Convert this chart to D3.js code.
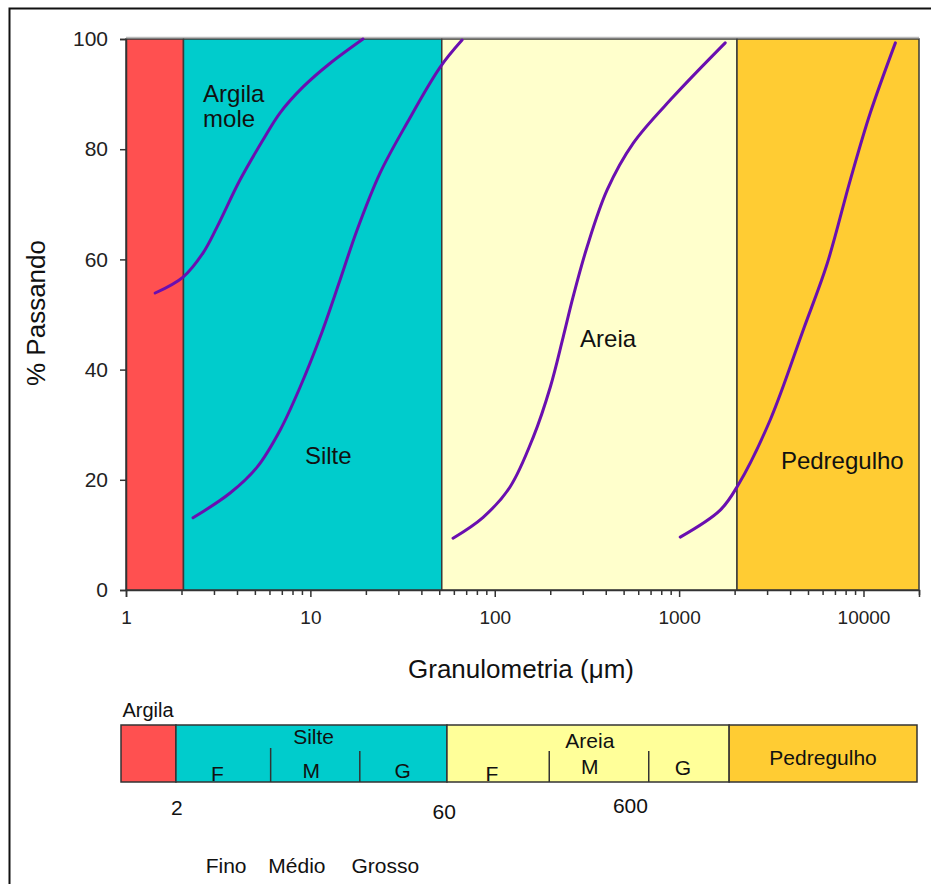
<!DOCTYPE html>
<html>
<head>
<meta charset="utf-8">
<script src="https://cdn.jsdelivr.net/npm/d3@7"></script>
<style>
  html, body { margin: 0; padding: 0; background: #fff; }
  text { font-family: "Liberation Sans", Arial, sans-serif; }
</style>
</head>
<body>
<svg id="chart" width="931" height="884"></svg>
<script>
// ---------- DATA ----------
const yTicks = [0, 20, 40, 60, 80, 100];
const xTickLabels = [1, 10, 100, 1000, 10000];

// Size-class bands in the main plot (µm)
const bandNames = ["Argila", "Silte", "Areia", "Pedregulho"];
const bandStart = [1, 2.05, 51.6, 2060];
const bandEnd = [2.05, 51.6, 2060, 20000];
const bandColors = ["#ff5050", "#00cccc", "#ffffcc", "#ffcc33"];

// Grading curves: [size µm, % passing]
const curveArgilaMole = [
  [1.44, 53.9], [2.04, 56.8], [2.62, 61.2], [3.12, 65.9], [4.15, 74.4],
  [5.54, 81.7], [6.85, 86.6], [9.13, 91.3], [12.8, 95.6], [19.3, 100]
];
const curveSilte = [
  [2.31, 13.1], [3.67, 17.6], [5.14, 22.3], [6.85, 29.0], [8.79, 36.8],
  [11.3, 45.9], [14.5, 56.3], [17.9, 65.3], [23.9, 75.7], [33.5, 84.8],
  [50.6, 94.9], [66.5, 99.8]
];
const curveAreia = [
  [59.4, 9.4], [86.5, 13.2], [121, 18.7], [162, 27.8], [200, 36.8],
  [235, 45.9], [266, 53.2], [317, 62.3], [407, 72.6], [564, 81.1],
  [929, 89.5], [1778, 99.3]
];
const curvePedregulho = [
  [1014, 9.6], [1671, 14.5], [2094, 19.1], [3122, 30.9], [4712, 47.2],
  [6363, 59.3], [8477, 74.4], [10890, 86.6], [14890, 99.3]
];

// In-plot labels: [text, size µm, % passing, anchor]
const plotLabels = [
  ["Argila", 2.62, 89.8, "start"],
  ["mole", 2.62, 85.1, "start"],
  ["Silte", 12.5, 24.1, "middle"],
  ["Areia", 412, 45.2, "middle"],
  ["Pedregulho", 7674, 23.2, "middle"]
];

// Schematic classification bar (positions in % of bar length)
const barSegStart = [0, 6.9, 40.95, 76.4];
const barSegEnd = [6.9, 40.95, 76.4, 100];
const barSegColors = ["#ff5050", "#00cccc", "#ffff99", "#ffcc33"];
const barDividers = [18.8, 30.0, 53.8, 66.3];
const barTitles = [["Silte", 24.2], ["Areia", 58.9], ["Pedregulho", 88.2]];
const barSubLabels = [["F", 12.1, 775], ["M", 23.9, 772], ["G", 35.4, 772],
                      ["F", 46.6, 775], ["M", 58.9, 768], ["G", 70.6, 769]];
const barBelowLabels = [["2", 7.0], ["60", 40.6], ["600", 64.0]];
const barSizeWords = [["Fino", 13.2], ["Médio", 22.1], ["Grosso", 33.2]];

// ---------- LAYOUT ----------
const svg = d3.select("#chart");
const plot = { left: 126, right: 919, top: 39, bottom: 590 };
const FONT = "'Liberation Sans', Arial, sans-serif";

const x = d3.scaleLog().domain([1, 20000]).range([plot.left, plot.right]);
const y = d3.scaleLinear().domain([0, 100]).range([plot.bottom, plot.top]);

// outer frame
svg.append("rect").attr("x", 9.5).attr("y", 8.5).attr("width", 940).attr("height", 900)
  .attr("fill", "none").attr("stroke", "#111").attr("stroke-width", 2);

// bands
svg.append("g").selectAll("rect").data(bandNames).join("rect")
  .attr("x", (d, i) => x(bandStart[i]))
  .attr("y", y(100))
  .attr("width", (d, i) => x(bandEnd[i]) - x(bandStart[i]))
  .attr("height", y(0) - y(100))
  .attr("fill", (d, i) => bandColors[i])
  .attr("stroke", "#3a3a3a").attr("stroke-width", 1.5);

// top border with soft shadow
svg.append("line").attr("x1", plot.left).attr("x2", plot.right)
  .attr("y1", y(100) - 1.5).attr("y2", y(100) - 1.5)
  .attr("stroke", "#bbb").attr("stroke-width", 1.5);

// curves
const line = d3.line().x(d => x(d[0])).y(d => y(d[1])).curve(d3.curveCatmullRom.alpha(0.5));
[curveArgilaMole, curveSilte, curveAreia, curvePedregulho].forEach(c => {
  svg.append("path").datum(c).attr("d", line)
    .attr("fill", "none").attr("stroke", "#6a0fb0").attr("stroke-width", 3)
    .attr("stroke-linecap", "round");
});

// in-plot labels
svg.append("g").selectAll("text").data(plotLabels).join("text")
  .attr("x", d => x(d[1])).attr("y", d => y(d[2]))
  .attr("text-anchor", d => d[3]).attr("dominant-baseline", "middle")
  .attr("font-size", 24).attr("fill", "#111").text(d => d[0]);

// y axis
const yAxis = d3.axisLeft(y).tickValues(yTicks).tickSize(6).tickPadding(12);
const gy = svg.append("g").attr("transform", `translate(${plot.left},0)`).call(yAxis);
gy.select(".domain").attr("stroke", "#333").attr("stroke-width", 1.5);
gy.selectAll(".tick line").attr("stroke", "#333").attr("stroke-width", 1.5);
gy.selectAll("text").attr("font-size", 21).attr("fill", "#222").attr("font-family", FONT);

// x axis: minor ticks
const minor = [];
for (let p = 0; p <= 4; p++) for (let k = 2; k <= 9; k++) {
  const v = k * Math.pow(10, p);
  if (v <= 20000) minor.push(v);
}
const gxm = svg.append("g").attr("transform", `translate(0,${plot.bottom})`)
  .call(d3.axisBottom(x).tickValues(minor).tickSize(5).tickFormat(""));
gxm.select(".domain").remove();
gxm.selectAll(".tick line").attr("stroke", "#333").attr("stroke-width", 1.5);

const gx = svg.append("g").attr("transform", `translate(0,${plot.bottom})`)
  .call(d3.axisBottom(x).tickValues(xTickLabels).tickSize(7).tickPadding(14).tickFormat(d3.format("d")));
gx.select(".domain").attr("stroke", "#333").attr("stroke-width", 1.5);
gx.selectAll(".tick line").attr("stroke", "#333").attr("stroke-width", 1.5);
gx.selectAll("text").attr("font-size", 19).attr("fill", "#222").attr("font-family", FONT);

// axis titles
svg.append("text").attr("x", 521).attr("y", 671).attr("text-anchor", "middle")
  .attr("dominant-baseline", "middle").attr("font-size", 26).attr("fill", "#111")
  .text("Granulometria (μm)");
svg.append("text").attr("transform", "translate(38,313) rotate(-90)")
  .attr("text-anchor", "middle").attr("dominant-baseline", "middle")
  .attr("font-size", 26).attr("fill", "#111").text("% Passando");

// ---------- classification bar ----------
const bx = d3.scaleLinear().domain([0, 100]).range([121, 917]);
const barTop = 725, barBottom = 782;

svg.append("g").selectAll("rect").data(barSegStart).join("rect")
  .attr("x", (d, i) => bx(barSegStart[i]))
  .attr("y", barTop)
  .attr("width", (d, i) => bx(barSegEnd[i]) - bx(barSegStart[i]))
  .attr("height", barBottom - barTop)
  .attr("fill", (d, i) => barSegColors[i])
  .attr("stroke", "#333").attr("stroke-width", 1.5);

svg.append("g").selectAll("line").data(barDividers).join("line")
  .attr("x1", d => bx(d)).attr("x2", d => bx(d))
  .attr("y1", (d, i) => i === 0 ? 748 : 751).attr("y2", barBottom)
  .attr("stroke", "#333").attr("stroke-width", 1.5);

svg.append("g").selectAll("text").data(barTitles).join("text")
  .attr("x", d => bx(d[1])).attr("y", (d, i) => [738, 742, 759][i])
  .attr("text-anchor", "middle").attr("dominant-baseline", "middle")
  .attr("font-size", 21).attr("fill", "#111").text(d => d[0]);

svg.append("g").selectAll("text").data(barSubLabels).join("text")
  .attr("x", d => bx(d[1])).attr("y", d => d[2])
  .attr("text-anchor", "middle").attr("dominant-baseline", "middle")
  .attr("font-size", 21).attr("fill", "#111").text(d => d[0]);

svg.append("text").attr("x", 148).attr("y", 712).attr("text-anchor", "middle")
  .attr("dominant-baseline", "middle").attr("font-size", 20).attr("fill", "#111").text("Argila");

svg.append("g").selectAll("text").data(barBelowLabels).join("text")
  .attr("x", d => bx(d[1])).attr("y", (d, i) => [809, 813, 807][i])
  .attr("text-anchor", "middle").attr("dominant-baseline", "middle")
  .attr("font-size", 21).attr("fill", "#111").text(d => d[0]);

svg.append("g").selectAll("text").data(barSizeWords).join("text")
  .attr("x", d => bx(d[1])).attr("y", 867)
  .attr("text-anchor", "middle").attr("dominant-baseline", "middle")
  .attr("font-size", 21).attr("fill", "#111").text(d => d[0]);
</script>
</body>
</html>
